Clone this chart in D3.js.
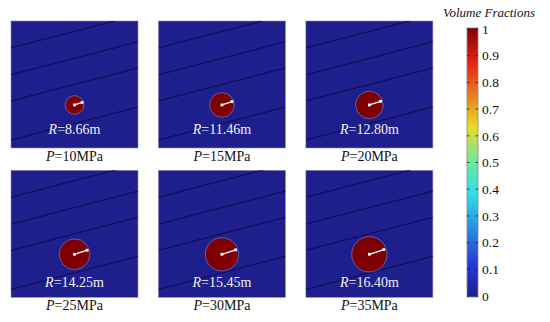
<!DOCTYPE html>
<html>
<head>
<meta charset="utf-8">
<script src="https://cdn.jsdelivr.net/npm/d3@7"></script>
<style>
  body { margin: 0; background: #fff; }
  svg { display: block; font-family: "Liberation Serif", "Times New Roman", serif; }
</style>
</head>
<body>
<svg id="chart" width="550" height="322"></svg>
<script>
// pressure cases and the plastic zone radius for each one
const pressures = [10, 15, 20, 25, 30, 35];
const radii = [8.66, 11.46, 12.80, 14.25, 15.45, 16.40];

// model box is 118 m wide, borehole centre (m from left / bottom)
const modelSize = 118;
const centre = [59, 40];

// bedding planes: y (m from bottom) on left and right edge of the model
const layerLeft = [93, 68, 43.7, 7.4];
const layerRight = [123.7, 98.7, 74.4, 38.1];

// colorbar
const cbTicks = [0, 0.1, 0.2, 0.3, 0.4, 0.5, 0.6, 0.7, 0.8, 0.9, 1];
const jetStops = [0, 0.12, 0.38, 0.5, 0.63, 0.87, 1];
const jetColors = ['#1e1e8c', '#2238d8', '#30dcea', '#6ae8a0', '#eadc26', '#e62216', '#800000'];

const svg = d3.select('#chart');
const panelSize = 127;

const colX = d3.scaleBand().domain([0, 1, 2]).range([11, 443]).paddingInner(0.07);
const rowY = d3.scaleBand().domain([0, 1]).range([21, 296.5]).paddingInner(0.155);

const xs = d3.scaleLinear().domain([0, modelSize]).range([0, panelSize]);
const ys = d3.scaleLinear().domain([0, modelSize]).range([panelSize, 0]);

const defs = svg.append('defs');
defs.append('clipPath').attr('id', 'panelClip')
  .append('rect').attr('width', panelSize).attr('height', panelSize);

const cases = pressures.map((p, i) => ({ p, r: radii[i], col: i % 3, row: Math.floor(i / 3) }));

const panels = svg.selectAll('g.panel').data(cases).enter().append('g')
  .attr('class', 'panel')
  .attr('transform', d => `translate(${colX(d.col)},${rowY(d.row)})`);

panels.append('rect')
  .attr('width', panelSize).attr('height', panelSize)
  .attr('fill', jetColors[0])
  .attr('stroke', '#8a8ab8').attr('stroke-width', 0.6);

const inner = panels.append('g').attr('clip-path', 'url(#panelClip)');
layerLeft.forEach((yl, k) => {
  inner.append('line')
    .attr('x1', xs(0)).attr('y1', ys(yl))
    .attr('x2', xs(modelSize)).attr('y2', ys(layerRight[k]))
    .attr('stroke', '#0a0a48').attr('stroke-width', 0.9);
});

inner.append('circle')
  .attr('cx', xs(centre[0])).attr('cy', ys(centre[1]))
  .attr('r', d => xs(d.r))
  .attr('fill', '#7f0000')
  .attr('stroke', '#5f72c8').attr('stroke-width', 0.8);

// radius arrow, about 18 degrees above horizontal
const ang = 18 * Math.PI / 180;
const tipX = d => xs(centre[0]) + xs(d.r) * 0.86 * Math.cos(ang);
const tipY = d => ys(centre[1]) - xs(d.r) * 0.86 * Math.sin(ang);
inner.append('line')
  .attr('x1', xs(centre[0])).attr('y1', ys(centre[1]))
  .attr('x2', tipX).attr('y2', tipY)
  .attr('stroke', '#fff').attr('stroke-width', 1.3);
inner.append('rect')
  .attr('x', xs(centre[0]) - 1.4).attr('y', ys(centre[1]) - 1.4)
  .attr('width', 2.8).attr('height', 2.8).attr('fill', '#fff');
inner.append('rect')
  .attr('x', d => tipX(d) - 1.4).attr('y', d => tipY(d) - 1.4)
  .attr('width', 2.8).attr('height', 2.8).attr('fill', '#fff');

// R label inside the panel
const rLab = panels.append('text')
  .attr('x', panelSize / 2)
  .attr('y', d => 113 + d.row * 3.5)
  .attr('text-anchor', 'middle')
  .attr('font-size', 14)
  .attr('fill', '#f2f2f8');
rLab.append('tspan').attr('font-style', 'italic').text('R');
rLab.append('tspan').text(d => '=' + d.r.toFixed(2) + 'm');

// P label under the panel
const pLab = panels.append('text')
  .attr('x', panelSize / 2)
  .attr('y', panelSize + 12.5)
  .attr('text-anchor', 'middle')
  .attr('font-size', 14)
  .attr('fill', '#111');
pLab.append('tspan').attr('font-style', 'italic').text('P');
pLab.append('tspan').text(d => '=' + d.p + 'MPa');

// colorbar
const cbX = 467, cbW = 11;
const cbScale = d3.scaleLinear().domain([0, 1]).range([296, 29]);

const grad = defs.append('linearGradient').attr('id', 'jet')
  .attr('x1', 0).attr('y1', 1).attr('x2', 0).attr('y2', 0);
grad.selectAll('stop').data(jetStops).enter().append('stop')
  .attr('offset', d => d)
  .attr('stop-color', (d, i) => jetColors[i]);

svg.append('rect')
  .attr('x', cbX).attr('y', cbScale(1) - 1)
  .attr('width', cbW).attr('height', cbScale(0) - cbScale(1) + 2)
  .attr('fill', 'url(#jet)')
  .attr('stroke', '#888').attr('stroke-width', 0.8);

const cbG = svg.append('g');
cbG.selectAll('.tl').data(cbTicks).enter().append('line')
  .attr('x1', cbX).attr('x2', cbX + 2.5)
  .attr('y1', d => cbScale(d)).attr('y2', d => cbScale(d))
  .attr('stroke', '#222').attr('stroke-width', 0.8);
cbG.selectAll('.tr').data(cbTicks).enter().append('line')
  .attr('x1', cbX + cbW - 2.5).attr('x2', cbX + cbW)
  .attr('y1', d => cbScale(d)).attr('y2', d => cbScale(d))
  .attr('stroke', '#222').attr('stroke-width', 0.8);
cbG.selectAll('text').data(cbTicks).enter().append('text')
  .attr('x', cbX + cbW + 4)
  .attr('y', d => cbScale(d))
  .attr('dy', '0.35em')
  .attr('font-size', 13.5)
  .attr('fill', '#111')
  .text(d => d3.format('.1~f')(d));

svg.append('text')
  .attr('x', 489).attr('y', 17)
  .attr('text-anchor', 'middle')
  .attr('font-size', 13)
  .attr('font-style', 'italic')
  .attr('fill', '#111')
  .text('Volume Fractions');
</script>
</body>
</html>
